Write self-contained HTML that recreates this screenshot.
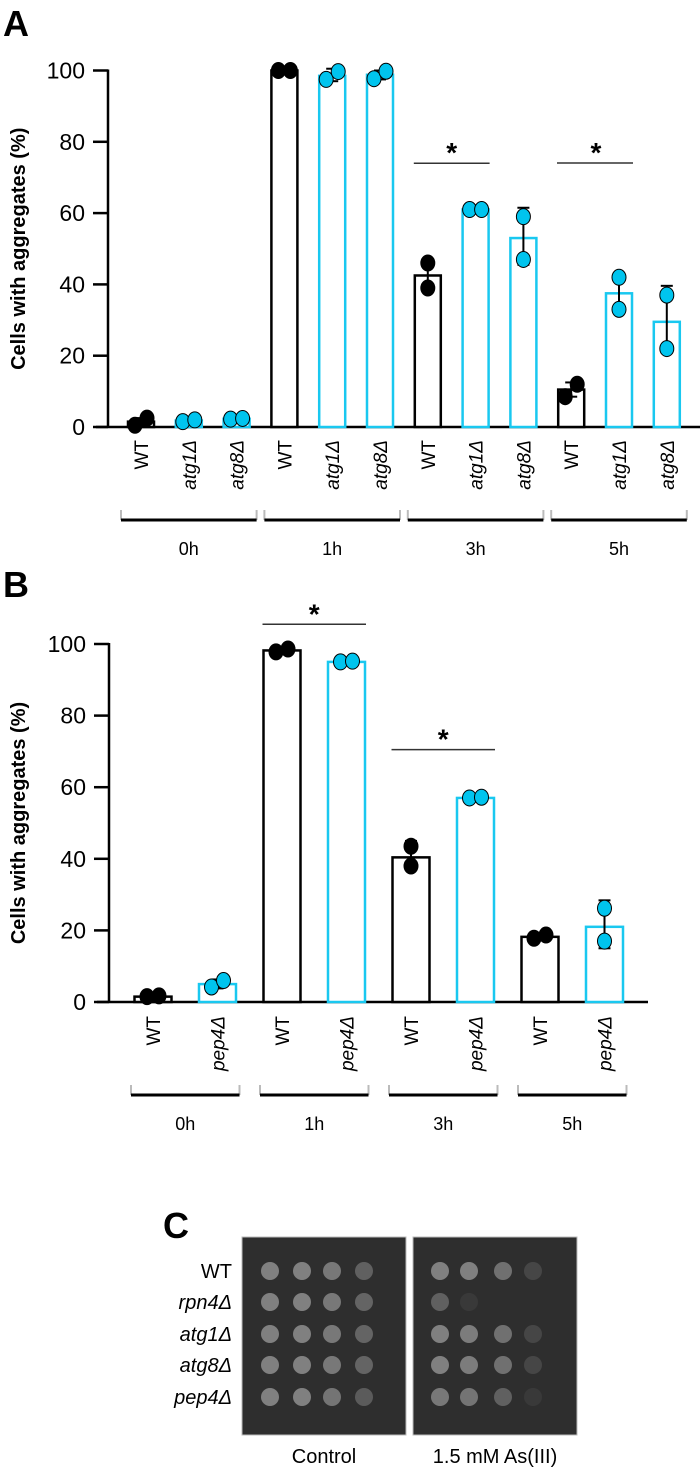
<!DOCTYPE html>
<html><head><meta charset="utf-8"><style>
html,body{margin:0;padding:0;background:#fff}
svg{display:block;font-family:"Liberation Sans",Arial,sans-serif}
</style></head><body>
<svg id="fig" width="700" height="1476" viewBox="0 0 700 1476">
<text x="3" y="36" font-size="36" font-weight="bold">A</text>
<text x="3" y="597" font-size="36" font-weight="bold">B</text>
<text x="163" y="1238" font-size="36" font-weight="bold">C</text>
<g id="chartA"></g>
<g id="chartB"></g>
<g id="panelC"></g>
</svg>
<script>
// Panel A data
const aCategories = ["WT","atg1Δ","atg8Δ","WT","atg1Δ","atg8Δ","WT","atg1Δ","atg8Δ","WT","atg1Δ","atg8Δ"];
const aGroups = ["0h","1h","3h","5h"];
const aMeans = [1.5,1.8,2.3,100,98.5,98.8,42.5,61,53,10.5,37.5,29.5];
const aPt1 = [0.5,1.5,2.2,100,97.5,97.7,46,61,59,8.5,42,37];
const aPt2 = [2.5,2.0,2.4,100,99.7,99.8,39,61,47,12,33,22];
const aErrHi = [2.5,2.0,2.4,100,100.5,100,46,61,61.5,12.5,42,39.6];
const aErrLo = [0.5,1.5,2.2,100,97,97.5,39,61,45.5,8.5,33,21];
const aMutant = [0,1,1,0,1,1,0,1,1,0,1,1];
const aTicks = [0,20,40,60,80,100];
// Panel B data
const bCategories = ["WT","pep4Δ","WT","pep4Δ","WT","pep4Δ","WT","pep4Δ"];
const bGroups = ["0h","1h","3h","5h"];
const bMeans = [1.5,5,98.2,95,40.4,57,18.2,21];
const bPt1 = [1.5,4.2,97.8,95,43.5,57,17.8,26.2];
const bPt2 = [1.7,6,98.6,95.2,38,57.2,18.7,17];
const bErrHi = [1.8,6.3,98.8,95.3,45,57.3,18.9,28.4];
const bErrLo = [1.3,3.8,97.6,94.7,37,56.8,17.6,15];
const bMutant = [0,1,0,1,0,1,0,1];
const bTicks = [0,20,40,60,80,100];

const NS="http://www.w3.org/2000/svg";
const CYAN="#19c8f0";
function mk(parent,tag,attrs,text){const e=document.createElementNS(NS,tag);for(const k in attrs)e.setAttribute(k,attrs[k]);if(text!==undefined)e.textContent=text;parent.appendChild(e);return e;}

function drawChart(g,cfg){
  const y=v=>cfg.y0-(v)*(cfg.y0-cfg.y100)/100;
  const x=i=>cfg.x0+Math.floor(i/cfg.per)*cfg.gstep+(i%cfg.per)*cfg.step;
  let ax=mk(g,"line",{x1:cfg.axisX,y1:cfg.y100-1,x2:cfg.axisX,y2:cfg.y0+1,stroke:"#000","stroke-width":2.5});
  
  
  let xa=mk(g,"line",{x1:cfg.axisX-12,y1:cfg.y0,x2:cfg.xEnd,y2:cfg.y0,stroke:"#000","stroke-width":2.5});
  
  
  cfg.ticks.forEach(t=>{
    let tl=mk(g,"line",{x1:cfg.axisX-15,y1:y(t),x2:cfg.axisX,y2:y(t),stroke:"#000","stroke-width":2.5});
    
    
    let tx=mk(g,"text",{x:cfg.axisX-23,y:y(t)+8,"font-size":23,"text-anchor":"end"},String(t));
    
    
  });
  let yt=mk(g,"text",{transform:`translate(${cfg.titleX},${(cfg.y0+cfg.y100)/2}) rotate(-90)`,"font-size":20,"font-weight":"bold","text-anchor":"middle"},"Cells with aggregates (%)");
  
  
  cfg.means.forEach((m,i)=>{
    const cx=x(i), col=cfg.mut[i]?CYAN:"#000";
    let b=mk(g,"rect",{x:cx-cfg.bw/2,y:y(m),width:cfg.bw,height:cfg.y0-y(m),fill:"#fff",stroke:col,"stroke-width":2.5});
    
    
    let el=mk(g,"line",{x1:cx,y1:y(cfg.hi[i]),x2:cx,y2:y(cfg.lo[i]),stroke:"#000","stroke-width":2});
    
    
    [cfg.hi[i],cfg.lo[i]].forEach(v=>{
      let c=mk(g,"line",{x1:cx-6,y1:y(v),x2:cx+6,y2:y(v),stroke:"#000","stroke-width":2});
      
      
    });
    [[cfg.p1[i],-6],[cfg.p2[i],6]].forEach(([v,dx])=>{
      const ddx=Math.abs(cfg.p1[i]-cfg.p2[i])>4?0:dx;
      let p=mk(g,"ellipse",{cx:cx+ddx,cy:y(v),rx:7,ry:8,fill:cfg.mut[i]?"#00c4ee":"#000",stroke:"#000","stroke-width":1});
      
      
    });
    let lb=mk(g,"text",{transform:`translate(${cx+7},${cfg.labY}) rotate(-90)`,"font-size":19,"text-anchor":"end","font-style":cfg.mut[i]?"italic":"normal"},cfg.cats[i]);
    
    
  });
  cfg.groups.forEach((gn,k)=>{
    const xl=x(k*cfg.per)-cfg.bpad, xr=x(k*cfg.per+cfg.per-1)+cfg.bpad;
    mk(g,"path",{d:`M${xl} ${cfg.brY-10}V${cfg.brY} M${xr} ${cfg.brY-10}V${cfg.brY}`,stroke:"#bbb","stroke-width":2,fill:"none"});
    let br=mk(g,"line",{x1:xl,y1:cfg.brY,x2:xr,y2:cfg.brY,stroke:"#000","stroke-width":3});
    
    
    let gl=mk(g,"text",{x:(xl+xr)/2,y:cfg.brY+35,"font-size":18,"text-anchor":"middle"},gn);
    
    
  });
  cfg.sig.forEach(([a,b,v])=>{
    let sl=mk(g,"line",{x1:x(a)-cfg.bw/2-1,y1:y(v),x2:x(b)+cfg.bw/2+1,y2:y(v),stroke:"#333","stroke-width":1.5});
    
    
    let st=mk(g,"text",{x:(x(a)+x(b))/2,y:y(v)-1,"font-size":28,"font-weight":"bold","text-anchor":"middle"},"*");
    
    
  });
}
drawChart(document.getElementById("chartA"),{y0:427,y100:70.5,axisX:108,xEnd:700,titleX:25,x0:141,per:3,step:47.8,gstep:143.4,bw:26,
  cats:aCategories,groups:aGroups,means:aMeans,p1:aPt1,p2:aPt2,hi:aErrHi,lo:aErrLo,mut:aMutant,ticks:aTicks,labY:440,brY:520,bpad:20,sig:[[6,7,74]]});
(function(){const g=document.getElementById("chartA");
  let sl=mk(g,"line",{x1:557,y1:163,x2:633,y2:163,stroke:"#333","stroke-width":1.5});
  
  
  let st=mk(g,"text",{x:596,y:162,"font-size":28,"font-weight":"bold","text-anchor":"middle"},"*");
  
  
})();
drawChart(document.getElementById("chartB"),{y0:1002,y100:644,axisX:109,xEnd:648,titleX:25,x0:153,per:2,step:64.5,gstep:129,bw:37,
  cats:bCategories,groups:bGroups,means:bMeans,p1:bPt1,p2:bPt2,hi:bErrHi,lo:bErrLo,mut:bMutant,ticks:bTicks,labY:1016,brY:1095,bpad:22,sig:[[2,3,105.5],[4,5,70.5]]});

// Panel C
const cStrains=["WT","rpn4Δ","atg1Δ","atg8Δ","pep4Δ"];
const cControl=[[1,1,0.9,0.6],[1,1,0.9,0.65],[1,1,0.9,0.65],[1,1,0.9,0.65],[1,1,0.85,0.55]];
const cArsenic=[[1,1,0.8,0.3],[0.6,0.15,0,0],[1,0.95,0.8,0.3],[1,0.95,0.8,0.3],[0.9,0.85,0.6,0.15]];
(function(){
  const g=document.getElementById("panelC");
  const rowY=[1271,1302,1334,1365,1397];
  const plates=[{x:242,cols:[270,302,332,364],d:cControl,n:"control-plate"},{x:413,cols:[440,469,503,533],d:cArsenic,n:"arsenic-plate"}];
  plates.forEach(p=>{
    let r=mk(g,"rect",{x:p.x,y:1237,width:164,height:198,fill:"#2e2e2e",stroke:"#bbb","stroke-width":1});
    
    
    p.d.forEach((row,ri)=>row.forEach((v,ci)=>{
      if(v<=0)return;
      let s=mk(g,"circle",{cx:p.cols[ci],cy:rowY[ri],r:9,fill:"#8a8a8a","fill-opacity":v*0.9});
      
      
    }));
  });
  cStrains.forEach((s,i)=>{
    let t=mk(g,"text",{x:232,y:rowY[i]+7,"font-size":20,"text-anchor":"end","font-style":i?"italic":"normal"},s);
    
    
  });
  let c1=mk(g,"text",{x:324,y:1463,"font-size":20,"text-anchor":"middle"},"Control");
  
  
  let c2=mk(g,"text",{x:495,y:1463,"font-size":20,"text-anchor":"middle"},"1.5 mM As(III)");
  
  
})();
</script>
</body></html>
